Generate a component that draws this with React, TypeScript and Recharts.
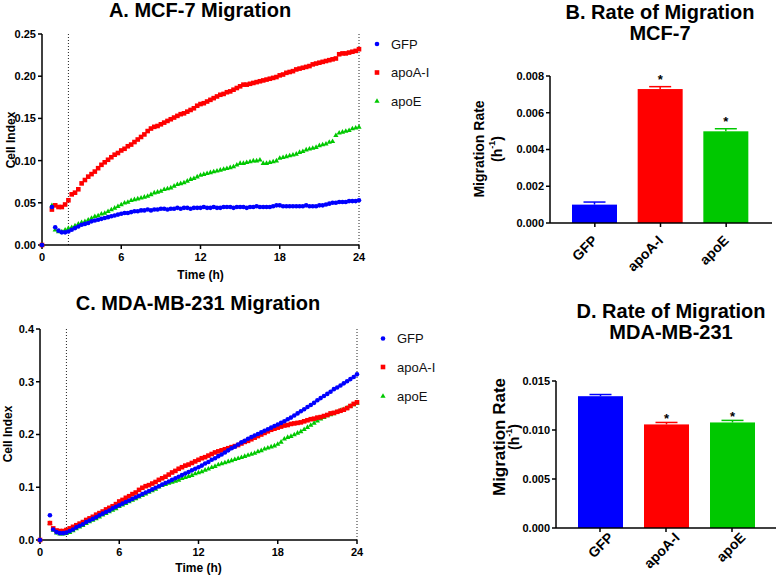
import React from "react";
import { ScatterChart, Scatter, BarChart, Bar, XAxis, YAxis, ReferenceLine } from "recharts";

const FONT = '"Liberation Sans", Arial, Helvetica, sans-serif';
const BLUE = "#0000ff";
const RED = "#ff0000";
const GREEN = "#00c800";

// time points (h)
const hours = [
  0, 0.75,
  1, 1.25, 1.5, 1.75,
  2, 2.25, 2.5, 2.75,
  3, 3.25, 3.5, 3.75,
  4, 4.25, 4.5, 4.75,
  5, 5.25, 5.5, 5.75,
  6, 6.25, 6.5, 6.75,
  7, 7.25, 7.5, 7.75,
  8, 8.25, 8.5, 8.75,
  9, 9.25, 9.5, 9.75,
  10, 10.25, 10.5, 10.75,
  11, 11.25, 11.5, 11.75,
  12, 12.25, 12.5, 12.75,
  13, 13.25, 13.5, 13.75,
  14, 14.25, 14.5, 14.75,
  15, 15.25, 15.5, 15.75,
  16, 16.25, 16.5, 16.75,
  17, 17.25, 17.5, 17.75,
  18, 18.25, 18.5, 18.75,
  19, 19.25, 19.5, 19.75,
  20, 20.25, 20.5, 20.75,
  21, 21.25, 21.5, 21.75,
  22, 22.25, 22.5, 22.75,
  23, 23.25, 23.5, 23.75,
  24,
];

// MCF-7 cell index
const mcfGFP = [
  0, 0.045,
  0.021, 0.017, 0.015, 0.015,
  0.016, 0.018, 0.020, 0.022,
  0.024, 0.025, 0.026, 0.028,
  0.029, 0.030, 0.031, 0.032,
  0.033, 0.034, 0.035, 0.036,
  0.037, 0.038, 0.038, 0.039,
  0.040, 0.040, 0.041, 0.041,
  0.042, 0.041, 0.042, 0.042,
  0.043, 0.043, 0.042, 0.043,
  0.043, 0.044, 0.043, 0.044,
  0.044, 0.043, 0.044, 0.044,
  0.044, 0.045, 0.044, 0.044,
  0.045, 0.044, 0.044, 0.045,
  0.045, 0.045, 0.044, 0.045,
  0.045, 0.045, 0.044, 0.045,
  0.045, 0.046, 0.045, 0.045,
  0.045, 0.045, 0.046, 0.047,
  0.047, 0.046, 0.046, 0.046,
  0.046, 0.046, 0.046, 0.046,
  0.047, 0.046, 0.046, 0.046,
  0.047, 0.047, 0.048, 0.049,
  0.050, 0.050, 0.051, 0.051,
  0.051, 0.052, 0.052, 0.052,
  0.053,
];
const mcfApoA = [
  0, 0.042,
  0.047, 0.045, 0.045, 0.048,
  0.053, 0.060, 0.062, 0.066,
  0.073, 0.077, 0.081, 0.084,
  0.087, 0.091, 0.095, 0.098,
  0.101, 0.104, 0.107, 0.109,
  0.112, 0.114, 0.117, 0.119,
  0.122, 0.125, 0.128, 0.131,
  0.135, 0.138, 0.140, 0.141,
  0.143, 0.145, 0.147, 0.149,
  0.151, 0.153, 0.155, 0.156,
  0.158, 0.160, 0.162, 0.165,
  0.167, 0.168, 0.170, 0.172,
  0.174, 0.176, 0.178, 0.179,
  0.181, 0.182, 0.184, 0.186,
  0.188, 0.190, 0.190, 0.191,
  0.192, 0.193, 0.194, 0.195,
  0.196, 0.197, 0.198, 0.199,
  0.201, 0.202, 0.204, 0.205,
  0.206, 0.208, 0.209, 0.210,
  0.211, 0.212, 0.214, 0.215,
  0.216, 0.217, 0.218, 0.219,
  0.220, 0.221, 0.226, 0.227,
  0.227, 0.228, 0.229, 0.230,
  0.232,
];
const mcfApoE = [
  0, 0.047,
  0.018, 0.016, 0.016, 0.018,
  0.020, 0.021, 0.023, 0.025,
  0.027, 0.028, 0.030, 0.032,
  0.034, 0.035, 0.037, 0.038,
  0.040, 0.042, 0.044, 0.046,
  0.048, 0.050, 0.051, 0.053,
  0.054, 0.055, 0.056, 0.057,
  0.058, 0.060, 0.062, 0.063,
  0.064, 0.066, 0.067, 0.068,
  0.070, 0.072, 0.073, 0.074,
  0.076, 0.078, 0.079, 0.081,
  0.083, 0.084, 0.085, 0.086,
  0.087, 0.088, 0.089, 0.090,
  0.091, 0.092, 0.093, 0.095,
  0.097, 0.097, 0.098, 0.099,
  0.100, 0.100, 0.101, 0.097,
  0.097, 0.098, 0.099, 0.100,
  0.103, 0.104, 0.105, 0.106,
  0.107, 0.108, 0.110, 0.111,
  0.113, 0.114, 0.115, 0.116,
  0.118, 0.119, 0.120, 0.122,
  0.123, 0.130, 0.133, 0.134,
  0.135, 0.136, 0.138, 0.139,
  0.140,
];

// MDA-MB-231 cell index
const mdaGFP = [
  0, 0.047,
  0.020, 0.015, 0.013, 0.013,
  0.014, 0.017, 0.020, 0.024,
  0.027, 0.030, 0.034, 0.037,
  0.040, 0.043, 0.047, 0.050,
  0.053, 0.056, 0.060, 0.063,
  0.066, 0.069, 0.072, 0.075,
  0.078, 0.081, 0.084, 0.087,
  0.090, 0.093, 0.096, 0.099,
  0.102, 0.105, 0.108, 0.111,
  0.114, 0.117, 0.120, 0.123,
  0.126, 0.129, 0.132, 0.135,
  0.138, 0.141, 0.145, 0.148,
  0.152, 0.155, 0.159, 0.162,
  0.166, 0.170, 0.174, 0.177,
  0.181, 0.185, 0.188, 0.192,
  0.195, 0.198, 0.201, 0.204,
  0.207, 0.210, 0.213, 0.216,
  0.219, 0.222, 0.225, 0.229,
  0.232, 0.236, 0.240, 0.244,
  0.248, 0.252, 0.256, 0.260,
  0.265, 0.269, 0.273, 0.277,
  0.281, 0.286, 0.289, 0.293,
  0.297, 0.301, 0.305, 0.309,
  0.314,
];
const mdaApoA = [
  0, 0.032,
  0.022, 0.018, 0.017, 0.017,
  0.019, 0.022, 0.025, 0.028,
  0.031, 0.034, 0.038, 0.041,
  0.044, 0.048, 0.051, 0.054,
  0.058, 0.061, 0.064, 0.068,
  0.073, 0.076, 0.080, 0.083,
  0.087, 0.090, 0.095, 0.099,
  0.102, 0.104, 0.107, 0.110,
  0.114, 0.117, 0.120, 0.124,
  0.128, 0.131, 0.135, 0.138,
  0.141, 0.143, 0.146, 0.149,
  0.152, 0.155, 0.157, 0.160,
  0.163, 0.166, 0.168, 0.170,
  0.172, 0.174, 0.176, 0.178,
  0.180, 0.183, 0.186, 0.188,
  0.191, 0.194, 0.197, 0.200,
  0.203, 0.206, 0.209, 0.211,
  0.213, 0.215, 0.217, 0.218,
  0.220, 0.221, 0.222, 0.223,
  0.225, 0.227, 0.229, 0.230,
  0.232, 0.233, 0.235, 0.237,
  0.240, 0.241, 0.243, 0.245,
  0.247, 0.250, 0.254, 0.258,
  0.261,
];
const mdaApoE = [
  0, 0.032,
  0.019, 0.014, 0.012, 0.012,
  0.013, 0.015, 0.018, 0.022,
  0.025, 0.028, 0.032, 0.035,
  0.038, 0.041, 0.044, 0.048,
  0.051, 0.054, 0.057, 0.060,
  0.064, 0.067, 0.070, 0.073,
  0.076, 0.079, 0.082, 0.085,
  0.088, 0.091, 0.094, 0.097,
  0.101, 0.104, 0.106, 0.108,
  0.110, 0.112, 0.114, 0.117,
  0.119, 0.121, 0.123, 0.126,
  0.128, 0.130, 0.133, 0.135,
  0.138, 0.140, 0.143, 0.145,
  0.147, 0.149, 0.151, 0.153,
  0.155, 0.157, 0.159, 0.161,
  0.163, 0.165, 0.168, 0.170,
  0.173, 0.175, 0.177, 0.179,
  0.182, 0.186, 0.192, 0.195,
  0.197, 0.200, 0.203, 0.206,
  0.210, 0.214, 0.218, 0.222,
  0.226, 0.230, 0.233, 0.236,
  0.238, 0.240, 0.243, 0.246,
  0.248, 0.251, 0.254, 0.257,
  0.260,
];

// migration rates (h^-1)
const groups = ["GFP", "apoA-I", "apoE"];
const mcfRate = [0.00100, 0.00729, 0.00499];
const mcfErr = [0.00014, 0.00013, 0.00014];
const mcfStar = [false, true, true];
const mdaRate = [0.01345, 0.01057, 0.01077];
const mdaErr = [0.00017, 0.00020, 0.00021];
const mdaStar = [false, true, true];

const timeTicks = [0, 6, 12, 18, 24];
const mcfTicks = [0, 0.05, 0.1, 0.15, 0.2, 0.25];
const mdaTicks = [0, 0.1, 0.2, 0.3, 0.4];
const mcfRateTicks = [0, 0.002, 0.004, 0.006, 0.008];
const mdaRateTicks = [0, 0.005, 0.01, 0.015];

const groupColors = [BLUE, RED, GREEN];

const axisLine = { stroke: "#000", strokeWidth: 1.5 };
const tickStyle = { fill: "#000", fontSize: 11, fontWeight: 700, fontFamily: FONT };

const toPoints = (vals: number[]) => hours.map((t, i) => ({ t, v: vals[i] }));

const dotShape = (p: any) => <circle cx={p.cx} cy={p.cy} r={2.3} fill={BLUE} />;
const squareShape = (p: any) => (
  <rect x={p.cx - 2.3} y={p.cy - 2.3} width={4.6} height={4.6} fill={RED} />
);
const triShape = (p: any) => (
  <polygon
    points={`${p.cx},${p.cy - 2.8} ${p.cx + 2.6},${p.cy + 1.8} ${p.cx - 2.6},${p.cy + 1.8}`}
    fill={GREEN}
  />
);

function MigrationChart(props: any) {
  const { left, top, width, height, margin, yWidth, xHeight, yTicks, digits, gfp, apoA, apoE } = props;
  return (
    <div style={{ position: "absolute", left, top }}>
      <ScatterChart width={width} height={height} margin={margin}>
        <XAxis
          type="number"
          dataKey="t"
          domain={[0, 24]}
          ticks={timeTicks}
          height={xHeight}
          axisLine={axisLine}
          tickLine={axisLine}
          tickSize={4}
          tickMargin={4}
          tick={tickStyle}
        />
        <YAxis
          type="number"
          dataKey="v"
          domain={[0, yTicks[yTicks.length - 1]]}
          ticks={yTicks}
          width={yWidth}
          axisLine={axisLine}
          tickLine={axisLine}
          tickSize={4}
          tickMargin={2}
          tick={tickStyle}
          tickFormatter={(v: number) => v.toFixed(digits)}
        />
        <ReferenceLine x={2} stroke="#222" strokeDasharray="1 2" strokeWidth={1} />
        <ReferenceLine x={24} stroke="#222" strokeDasharray="1 2" strokeWidth={1} />
        <Scatter data={toPoints(apoE)} shape={triShape} isAnimationActive={false} />
        <Scatter data={toPoints(apoA)} shape={squareShape} isAnimationActive={false} />
        <Scatter data={toPoints(gfp)} shape={dotShape} isAnimationActive={false} />
      </ScatterChart>
    </div>
  );
}

function RateChart(props: any) {
  const { left, top, width, height, margin, yWidth, xHeight, padding, yTicks, rates, errs, stars, starGap, labelShift } = props;
  const rows = groups.map((name, i) => ({ name, rate: rates[i], err: errs[i], star: stars[i] }));

  const barShape = (p: any) => {
    const { x, y, width: w, height: h, index, payload } = p;
    const perUnit = h / payload.rate;
    const errTop = y - payload.err * perUnit;
    const cx = x + w / 2;
    const c = groupColors[index];
    return (
      <g>
        <rect x={x} y={y} width={w} height={h} fill={c} />
        <line x1={cx} x2={cx} y1={y} y2={errTop} stroke={c} strokeWidth={1.5} />
        <line x1={cx - 11} x2={cx + 11} y1={errTop} y2={errTop} stroke={c} strokeWidth={1.5} />
        {payload.star && (
          <text x={cx} y={errTop - starGap} textAnchor="middle" fontSize={13} fontWeight={700} fontFamily={FONT} fill="#000">
            *
          </text>
        )}
      </g>
    );
  };

  const slantTick = (p: any) => {
    const ax = p.x + labelShift[0];
    const ay = p.y + labelShift[1];
    return (
      <text
        x={ax}
        y={ay}
        dy="0.35em"
        transform={`rotate(-45 ${ax} ${ay})`}
        textAnchor="end"
        fontSize={14}
        fontWeight={700}
        fontFamily={FONT}
        fill="#000"
      >
        {p.payload.value}
      </text>
    );
  };

  return (
    <div style={{ position: "absolute", left, top }}>
      <BarChart width={width} height={height} data={rows} margin={margin}>
        <XAxis
          dataKey="name"
          height={xHeight}
          padding={padding}
          interval={0}
          axisLine={axisLine}
          tickLine={axisLine}
          tickSize={4}
          tickMargin={2}
          tick={slantTick}
        />
        <YAxis
          domain={[0, yTicks[yTicks.length - 1]]}
          ticks={yTicks}
          width={yWidth}
          axisLine={axisLine}
          tickLine={axisLine}
          tickSize={4}
          tickMargin={2}
          tick={tickStyle}
          tickFormatter={(v: number) => v.toFixed(3)}
        />
        <Bar dataKey="rate" barSize={45} shape={barShape} isAnimationActive={false} />
      </BarChart>
    </div>
  );
}

const bold = { fontFamily: FONT, fontWeight: 700, fill: "#000" } as const;

function SeriesLegend({ mx, tx, ys }: { mx: number; tx: number; ys: number[] }) {
  return (
    <g>
      <circle cx={mx} cy={ys[0]} r={2.3} fill={BLUE} />
      <rect x={mx - 2.3} y={ys[1] - 2.3} width={4.6} height={4.6} fill={RED} />
      <polygon points={`${mx},${ys[2] - 2.8} ${mx + 2.6},${ys[2] + 1.8} ${mx - 2.6},${ys[2] + 1.8}`} fill={GREEN} />
      {groups.map((g, i) => (
        <text key={g} x={tx} y={ys[i]} dominantBaseline="central" fontSize={13} fontFamily={FONT} fill="#111">
          {g}
        </text>
      ))}
    </g>
  );
}

function RateLabel({ x1, x2, y, size }: { x1: number; x2: number; y: number; size: number }) {
  return (
    <g>
      <text transform={`translate(${x1},${y}) rotate(-90)`} textAnchor="middle" dominantBaseline="central" fontSize={size} {...bold}>
        Migration Rate
      </text>
      <text transform={`translate(${x2},${y}) rotate(-90)`} textAnchor="middle" dominantBaseline="central" fontSize={14} {...bold}>
        (h<tspan dy={-5} fontSize={9}>-1</tspan>
        <tspan dy={5}>)</tspan>
      </text>
    </g>
  );
}

export default function App() {
  return (
    <div style={{ position: "absolute", left: 0, top: 0, width: 778, height: 575, background: "#fff" }}>
      <MigrationChart
        left={0}
        top={0}
        width={470}
        height={290}
        margin={{ top: 34, right: 111, bottom: 0, left: 0 }}
        yWidth={42}
        xHeight={45}
        yTicks={mcfTicks}
        digits={2}
        gfp={mcfGFP}
        apoA={mcfApoA}
        apoE={mcfApoE}
      />
      <MigrationChart
        left={0}
        top={290}
        width={470}
        height={285}
        margin={{ top: 39, right: 113, bottom: 0, left: 0 }}
        yWidth={40}
        xHeight={35}
        yTicks={mdaTicks}
        digits={1}
        gfp={mdaGFP}
        apoA={mdaApoA}
        apoE={mdaApoE}
      />
      <RateChart
        left={470}
        top={0}
        width={308}
        height={290}
        margin={{ top: 76, right: 6, bottom: 0, left: 0 }}
        yWidth={80}
        xHeight={67}
        padding={{ left: 12, right: 13 }}
        yTicks={mcfRateTicks}
        rates={mcfRate}
        errs={mcfErr}
        stars={mcfStar}
        starGap={3}
        labelShift={[0, 9]}
      />
      <RateChart
        left={470}
        top={290}
        width={308}
        height={285}
        margin={{ top: 91, right: 2, bottom: 0, left: 0 }}
        yWidth={86}
        xHeight={47}
        padding={{ left: 11, right: 11 }}
        yTicks={mdaRateTicks}
        rates={mdaRate}
        errs={mdaErr}
        stars={mdaStar}
        starGap={-1}
        labelShift={[11, 1]}
      />
      <svg width={778} height={575} style={{ position: "absolute", left: 0, top: 0, pointerEvents: "none" }}>
        <text x={200} y={17} textAnchor="middle" fontSize={20} {...bold}>A. MCF-7 Migration</text>
        <text x={660} y={19} textAnchor="middle" fontSize={20} {...bold}>B. Rate of Migration</text>
        <text x={660} y={40} textAnchor="middle" fontSize={20} {...bold}>MCF-7</text>
        <text x={198} y={310} textAnchor="middle" fontSize={20} {...bold}>C. MDA-MB-231 Migration</text>
        <text x={671} y={318} textAnchor="middle" fontSize={20} {...bold}>D. Rate of Migration</text>
        <text x={671} y={339} textAnchor="middle" fontSize={20} {...bold}>MDA-MB-231</text>

        <text x={200.5} y={279} textAnchor="middle" fontSize={12} {...bold}>Time (h)</text>
        <text x={198.5} y={572} textAnchor="middle" fontSize={12} {...bold}>Time (h)</text>
        <text transform="translate(11,140) rotate(-90)" textAnchor="middle" dominantBaseline="central" fontSize={12} {...bold}>Cell Index</text>
        <text transform="translate(8,434) rotate(-90)" textAnchor="middle" dominantBaseline="central" fontSize={12} {...bold}>Cell Index</text>

        <RateLabel x1={479} x2={497} y={149} size={14} />
        <RateLabel x1={499} x2={514} y={437} size={17} />

        <SeriesLegend mx={377} tx={391} ys={[44, 72.5, 101]} />
        <SeriesLegend mx={383} tx={397} ys={[338.5, 367, 396]} />
      </svg>
    </div>
  );
}
